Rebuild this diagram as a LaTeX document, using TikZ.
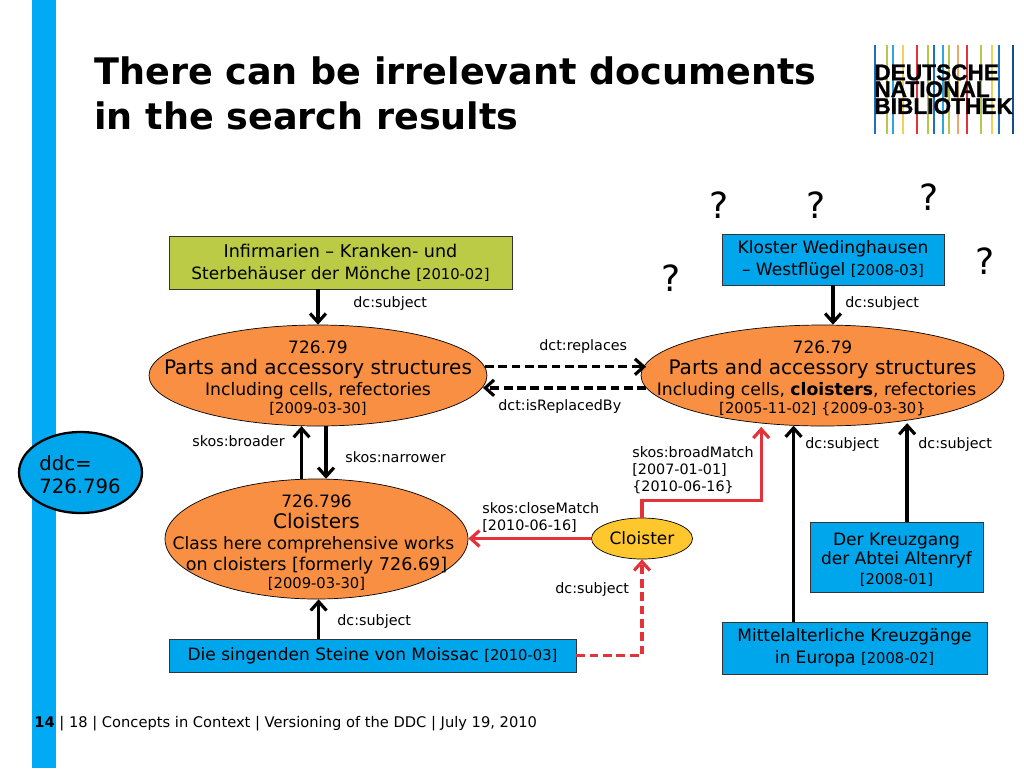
\documentclass[tikz,border=0pt]{standalone}
\usepackage{fontspec}
\setmainfont{DejaVu Sans}
\newfontfamily\logofont{Liberation Sans}[BoldFeatures={FakeBold=1}]
\usetikzlibrary{positioning,arrows.meta,calc,shapes.geometric}
\definecolor{ddcblue}{HTML}{00A6EB}
\definecolor{barblue}{HTML}{00AAF5}
\definecolor{ddcorange}{HTML}{F98F42}
\definecolor{ddcgreen}{HTML}{BBCB45}
\definecolor{ddcyellow}{HTML}{FFC72E}
\definecolor{ddcred}{HTML}{E2323A}
\definecolor{logoblue}{HTML}{1F70C1}
\definecolor{logosky}{HTML}{2CA6E0}
\definecolor{logogreen}{HTML}{B5C84A}
\definecolor{logoyellow}{HTML}{F2CF5B}
\definecolor{logoorange}{HTML}{EDA66B}
\newcommand{\fs}[2]{\fontsize{#1}{#2}\selectfont\lineskiplimit=-20pt\relax}
\newcommand{\dt}[1]{{\fontsize{8.4}{10}\selectfont #1}}
\tikzset{
  box/.style={draw=black!80,line width=0.4pt,fill=ddcblue,rectangle,align=center,inner sep=0pt,font=\fs{9.7}{12.4}},
  concept/.style={draw=black,line width=0.4pt,fill=ddcorange,ellipse,align=center,inner sep=0pt},
  conceptext/.style={align=center,inner sep=0pt},
  lab/.style={font=\fs{8.15}{9.8},align=left,inner sep=0pt},
  rel/.style={-{Straight Barb[length=5pt,width=9pt,line width=1.8pt]},line width=1.9pt},
  redrel/.style={rel,ddcred},
  dashrel/.style={dash pattern=on 5pt off 2.6pt},
  quest/.style={font=\fs{20.5}{24},inner sep=0pt}
}
\begin{document}
\begin{tikzpicture}[x=0.02cm,y=-0.02cm]
  \useasboundingbox (0,0) rectangle (1024,768);
  \fill[barblue] (32,0) rectangle (56,768);
  % title
  \node[anchor=north west,align=left,inner sep=0pt,font=\fs{20.8}{26}\bfseries] (title) at (94,56)
    {There can be irrelevant documents\\in the search results};
  % logo
  \foreach \x/\c in {875/logoblue,887/logogreen,893/logosky,903/logoyellow,917/ddcred,928/logogreen,
    934/logoblue,943/logosky,949/logogreen,958/logoorange,967/ddcred,981/logogreen,992/logoyellow,999/logoblue,1013/logoblue!70!black}
    \draw[\c,line width=0.9pt] (\x,45) -- (\x,134);
  \node[anchor=north west,align=left,inner sep=0pt,font=\logofont\fs{12.9}{9.6}\bfseries] (logo) at (874,64)
    {DEUTSCHE\\NATIONAL\\BIBLIOTHEK};
  % boxes
  \node[box,fill=ddcgreen,font=\fs{10}{12.4},minimum width=343*0.02cm,minimum height=53*0.02cm] (infirm) at (340.5,262.5)
    {Infirmarien -- Kranken- und\\{\fontsize{9.65}{12}\selectfont Sterbehäuser der Mönche} \dt{[2010-02]}};
  \node[box,minimum width=222*0.02cm,minimum height=51*0.02cm] (kloster) at (833,259.5)
    {Kloster Wedinghausen\\-- Westflügel \dt{[2008-03]}};
  \node[box,font=\fs{9.7}{11},minimum width=173*0.02cm,minimum height=70*0.02cm] (kreuzgang) at (896.5,557)
    {\rule{0pt}{10pt}Der Kreuzgang\\der Abtei Altenryf\\\dt{[2008-01]}};
  \node[box,minimum width=265*0.02cm,minimum height=52*0.02cm] (mittel) at (854.5,648)
    {Mittelalterliche Kreuzgänge\\in Europa \dt{[2008-02]}};
  \node[box,minimum width=407*0.02cm,minimum height=33*0.02cm] (moissac) at (372.5,655.5)
    {Die singenden Steine von Moissac \dt{[2010-03]}};
  % concepts
  \node[concept,minimum width=338*0.02cm,minimum height=101*0.02cm] (parts) at (318,375.5) {};
  \node[conceptext] (partstext) at (318,378.5)
    {\fs{9.7}{12.5}726.79\\\fs{11.4}{12.5}Parts and accessory structures\\\fs{9.8}{12.5}Including cells, refectories\\[-1.7pt]\fs{8.4}{12.5}[2009-03-30]};
  \node[concept,minimum width=363*0.02cm,minimum height=101*0.02cm] (partsold) at (822.5,375.5) {};
  \node[conceptext] (partsoldtext) at (822.5,378.5)
    {\fs{9.7}{12.5}726.79\\\fs{11.4}{12.5}Parts and accessory structures\\\fs{9.8}{12.5}Including cells, \textbf{cloisters}, refectories\kern6.8pt\\[-1.7pt]\fs{8.4}{12.5}[2005-11-02] \{2009-03-30\}};
  \node[concept,minimum width=303*0.02cm,minimum height=120*0.02cm] (cloisters) at (316.5,539) {};
  \node[conceptext] (cloisterstext) at (316.5,542.5)
    {\fs{9.7}{12.4}726.796\\\fs{11.4}{12.4}Cloisters\\\fs{9.75}{12.4}Class here comprehensive works\kern3.4pt\\on cloisters [formerly 726.69]\\[-1.8pt]\fs{8.4}{12.4}[2009-03-30]};
  \node[concept,fill=ddcyellow,minimum width=101*0.02cm,minimum height=41*0.02cm,font=\fs{9.7}{12}] (cloister) at (642,538.5) {Cloister};
  \node[draw=black,line width=1.3pt,fill=ddcblue,ellipse,minimum width=123*0.02cm,minimum height=81*0.02cm] (ddc) at (80.5,472.5) {};
  \node[align=left,inner sep=0pt,font=\fs{11.2}{13}] (ddctext) at (80,474.5) {ddc=\\726.796};
  % relations
  \draw[rel] (infirm.south -| parts.north) -- (parts.north);
  \draw[rel] (kloster.south) -- (kloster.south |- partsold.north);
  \draw[rel,dashrel] (parts.3.3) -- (parts.3.3 -| partsold.176.9);
  \draw[rel,dashrel] (partsold.184.4) -- (partsold.184.4 -| parts.-4.7);
  \draw[rel] (cloisters.104.6) -- (cloisters.104.6 |- parts.-108.7);
  \draw[rel] (parts.-81) -- (parts.-81 |- cloisters.80.5);
  \draw[rel] (moissac.north -| cloisters.-88.1) -- (cloisters.-88.1);
  \draw[rel] (mittel.north -| partsold.-120.6) -- (partsold.-120.6);
  \draw[rel,shorten >=1.5pt] (kreuzgang.north -| partsold.-28.6) -- (partsold.-28.6);
  \draw[redrel] (cloister.west) -- (cloister.west -| cloisters.east);
  \draw[redrel,shorten >=2pt] (cloister.north) -- ++(0,-17) -| (partsold.-142.8);
  \draw[redrel,dashrel] (moissac.east) -| (cloister.south);
  % labels
  \node[lab,anchor=west] (subjecta) at (353,304) {dc:subject};
  \node[lab,anchor=west] (subjectb) at (845,304) {dc:subject};
  \node[lab,anchor=west] (replaces) at (539,347) {dct:replaces};
  \node[lab,anchor=west] (replacedby) at (498,407) {dct:isReplacedBy};
  \node[lab,anchor=west] (broader) at (192,441) {skos:broader};
  \node[lab,anchor=west] (narrower) at (345,457) {skos:narrower};
  \node[lab,anchor=west] (subjectc) at (337,622) {dc:subject};
  \node[lab,anchor=west] (subjectd) at (555,590) {dc:subject};
  \node[lab,anchor=west] (subjecte) at (805,445) {dc:subject};
  \node[lab,anchor=west] (subjectf) at (918,445) {dc:subject};
  \node[lab,anchor=north west] (broadmatch) at (632,446) {skos:broadMatch\\{}[2007-01-01]\\\{2010-06-16\}};
  \node[lab,anchor=north west] (closematch) at (482,502) {skos:closeMatch\\{}[2010-06-16]};
  % question marks
  \foreach \x/\y [count=\i] in {719/205,816/205,929/197,985/261,671/278}
    \node[quest] (quest\i) at (\x,\y) {?};
  % footer
  \node[anchor=west,inner sep=0pt,font=\fs{8.35}{10}] (foot) at (34,724)
    {\textbf{14} | 18 | Concepts in Context | Versioning of the DDC | July 19, 2010};
\end{tikzpicture}
\end{document}
